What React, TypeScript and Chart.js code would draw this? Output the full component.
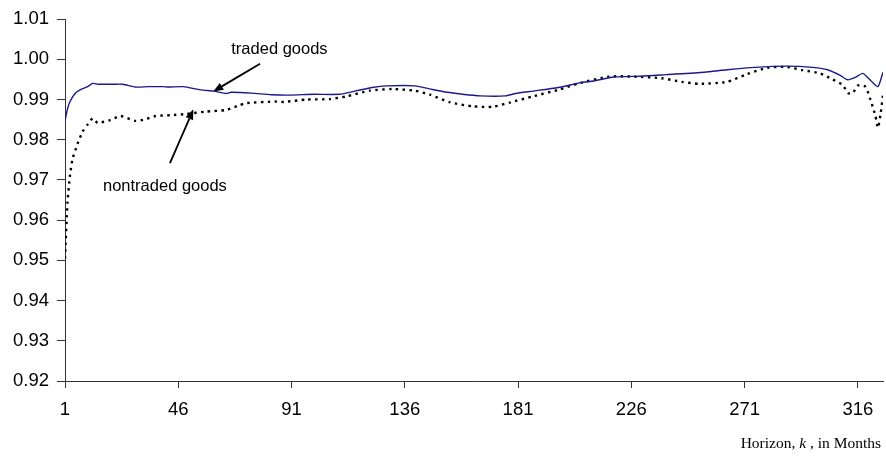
import React, { useEffect, useRef } from "react";
import { Chart, registerables } from "chart.js";

Chart.register(...registerables);

// Horizon (months) and variance-ratio values
const tradedMonths = [1, 2, 3, 5, 7, 10, 12, 14, 20, 24, 29, 34, 40, 42, 48, 55, 60, 65, 67, 75, 83, 90, 100, 110, 117, 123, 129, 140, 147, 153, 159, 166, 176, 180, 187, 197, 206, 211, 219, 230, 240, 255, 264, 275, 288, 298, 304, 309, 312, 315, 318, 321, 324, 326];
const tradedValues = [0.9847, 0.9877, 0.9895, 0.9915, 0.9924, 0.9932, 0.994, 0.9938, 0.9938, 0.9938, 0.9931, 0.9932, 0.9932, 0.9931, 0.9932, 0.9924, 0.9921, 0.9915, 0.9918, 0.9916, 0.9912, 0.9911, 0.9913, 0.9913, 0.9922, 0.993, 0.9934, 0.9934, 0.9925, 0.9918, 0.9913, 0.9909, 0.9909, 0.9915, 0.9921, 0.993, 0.9942, 0.9946, 0.9956, 0.9958, 0.9962, 0.9968, 0.9974, 0.998, 0.9983, 0.998, 0.9974, 0.996, 0.9949, 0.9955, 0.9965, 0.9948, 0.9932, 0.9968];

const nontradedMonths = [1, 2, 3, 4, 6, 8, 10, 12, 14, 19, 23, 29, 33, 37, 43, 49, 57, 65, 70, 73, 85, 88, 97, 106, 113, 122, 131, 140, 146, 154, 163, 171, 178, 187, 197, 205, 217, 227, 238, 246, 253, 264, 272, 280, 288, 294, 301, 306, 310, 312, 314, 316, 319, 321, 323, 324, 325, 326];
const nontradedValues = [0.9505, 0.9645, 0.9712, 0.9752, 0.979, 0.982, 0.9838, 0.9853, 0.9842, 0.9849, 0.9859, 0.9847, 0.9851, 0.9859, 0.9861, 0.9864, 0.987, 0.9874, 0.9885, 0.9891, 0.9895, 0.9894, 0.99, 0.9901, 0.9908, 0.9922, 0.9926, 0.9922, 0.9912, 0.9893, 0.9883, 0.9882, 0.9893, 0.9908, 0.9924, 0.994, 0.9957, 0.9957, 0.9953, 0.9944, 0.9939, 0.9944, 0.9963, 0.9979, 0.9981, 0.9973, 0.9965, 0.995, 0.9936, 0.9916, 0.9916, 0.9935, 0.9932, 0.99, 0.9859, 0.983, 0.9863, 0.991];

const xTickValues = [1, 46, 91, 136, 181, 226, 271, 316];
const yTickValues = [0.92, 0.93, 0.94, 0.95, 0.96, 0.97, 0.98, 0.99, 1.0, 1.01];
const xMin = 1;
const xMax = 326;

// Annotations in data units: label centre, arrow tail, arrow tip
const annotationLabels = ["traded goods", "nontraded goods"];
const annotationLabelAt = [[86.2, 1.00235], [40.7, 0.96844]];
const annotationArrowFrom = [[78.5, 0.99892], [42.7, 0.97421]];
const annotationArrowTo = [[59.9, 0.992], [52, 0.98755]];

const axisTitleParts = [
  { text: "Horizon, ", italic: false },
  { text: "k", italic: true },
  { text: " , in Months", italic: false },
];

const SANS = '"Liberation Sans", Arial, sans-serif';
const SERIF = '"Liberation Serif", "Times New Roman", serif';

const annotationPlugin = {
  id: "annotations",
  afterDatasetsDraw(chart: any) {
    const { ctx } = chart;
    const x = chart.scales.x;
    const y = chart.scales.y;
    ctx.save();
    ctx.fillStyle = "#000";
    ctx.strokeStyle = "#000";
    ctx.font = `16.5px ${SANS}`;
    ctx.textAlign = "center";
    ctx.textBaseline = "middle";
    annotationLabels.forEach((t, i) => {
      ctx.fillText(t, x.getPixelForValue(annotationLabelAt[i][0]), y.getPixelForValue(annotationLabelAt[i][1]));
    });
    annotationArrowFrom.forEach((from, i) => {
      const x0 = x.getPixelForValue(from[0]);
      const y0 = y.getPixelForValue(from[1]);
      const x1 = x.getPixelForValue(annotationArrowTo[i][0]);
      const y1 = y.getPixelForValue(annotationArrowTo[i][1]);
      const ang = Math.atan2(y1 - y0, x1 - x0);
      const headLen = 10;
      const headW = 4;
      const bx = x1 - headLen * Math.cos(ang);
      const by = y1 - headLen * Math.sin(ang);
      ctx.lineWidth = 1.8;
      ctx.beginPath();
      ctx.moveTo(x0, y0);
      ctx.lineTo(bx, by);
      ctx.stroke();
      ctx.beginPath();
      ctx.moveTo(x1, y1);
      ctx.lineTo(bx + headW * Math.sin(ang), by - headW * Math.cos(ang));
      ctx.lineTo(bx - headW * Math.sin(ang), by + headW * Math.cos(ang));
      ctx.closePath();
      ctx.fill();
    });

    // x-axis title with italic k, right aligned
    const size = 15.5;
    const fonts = axisTitleParts.map((p) => (p.italic ? `italic ${size}px ${SERIF}` : `${size}px ${SERIF}`));
    let total = 0;
    const widths = axisTitleParts.map((p, i) => {
      ctx.font = fonts[i];
      const w = ctx.measureText(p.text).width;
      total += w;
      return w;
    });
    let cx = chart.width - 5 - total;
    const baseY = chart.height - 15;
    ctx.textAlign = "left";
    ctx.textBaseline = "alphabetic";
    axisTitleParts.forEach((p, i) => {
      ctx.font = fonts[i];
      ctx.fillText(p.text, cx, baseY);
      cx += widths[i];
    });
    ctx.restore();
  },
};

export default function App() {
  const canvasRef = useRef<HTMLCanvasElement | null>(null);

  useEffect(() => {
    if (!canvasRef.current) return;
    const chart = new Chart(canvasRef.current, {
      type: "line",
      data: {
        datasets: [
          {
            label: "traded goods",
            data: tradedMonths.map((m, i) => ({ x: m, y: tradedValues[i] })),
            borderColor: "#1a1a8a",
            borderWidth: 1.4,
            pointRadius: 0,
            tension: 0.2,
            fill: false,
          },
          {
            label: "nontraded goods",
            data: nontradedMonths.map((m, i) => ({ x: m, y: nontradedValues[i] })),
            borderColor: "#000",
            borderWidth: 2.4,
            borderDash: [2.4, 4.4],
            pointRadius: 0,
            tension: 0.2,
            fill: false,
          },
        ],
      },
      options: {
        responsive: false,
        animation: false,
        layout: { padding: { top: 13, right: 3, left: 0, bottom: 0 } },
        plugins: {
          legend: { display: false },
          tooltip: { enabled: false },
        },
        scales: {
          x: {
            type: "linear",
            min: xMin,
            max: xMax,
            afterBuildTicks: (scale: any) => {
              scale.ticks = xTickValues.map((v) => ({ value: v }));
            },
            afterFit: (scale: any) => {
              scale.height = 82;
            },
            grid: { drawOnChartArea: false, drawTicks: true, tickLength: 7, color: "#333", lineWidth: 1 },
            border: { display: true, color: "#333", width: 1 },
            ticks: {
              autoSkip: false,
              maxRotation: 0,
              padding: 11,
              color: "#000",
              font: { family: SANS, size: 18.5 },
              callback: (v: any) => String(v),
            },
          },
          y: {
            type: "linear",
            min: 0.92,
            max: 1.01,
            afterBuildTicks: (scale: any) => {
              scale.ticks = yTickValues.map((v) => ({ value: v }));
            },
            afterFit: (scale: any) => {
              scale.width = 65;
            },
            grid: { drawOnChartArea: false, drawTicks: true, tickLength: 8, color: "#333", lineWidth: 1 },
            border: { display: true, color: "#333", width: 1 },
            ticks: {
              autoSkip: false,
              padding: 8,
              color: "#000",
              font: { family: SANS, size: 18.5 },
              callback: (v: any) => Number(v).toFixed(2),
            },
          },
        },
      },
      plugins: [annotationPlugin],
    });
    return () => chart.destroy();
  }, []);

  return (
    <div style={{ position: "fixed", left: 0, top: 0, width: 886, height: 463, background: "#fff" }}>
      <canvas ref={canvasRef} width={886} height={463} style={{ width: 886, height: 463 }} />
    </div>
  );
}
